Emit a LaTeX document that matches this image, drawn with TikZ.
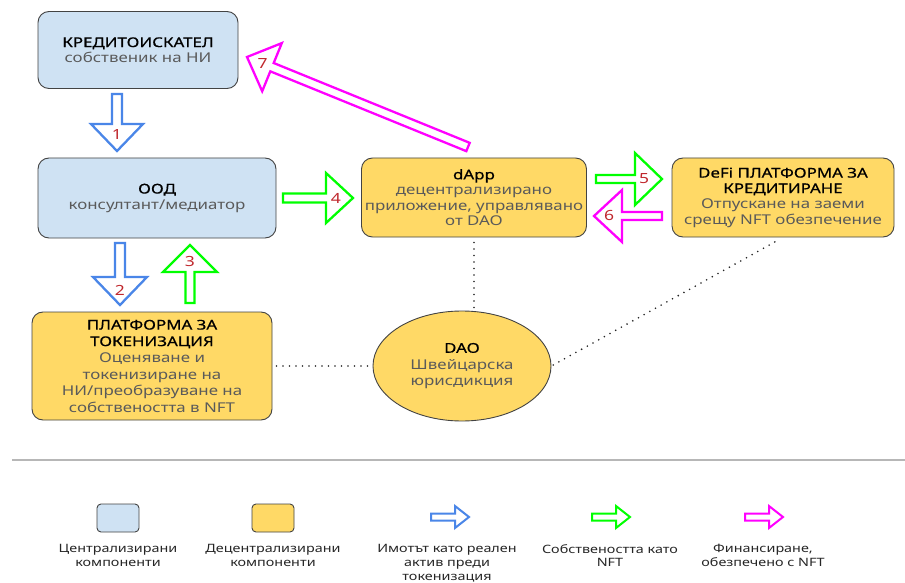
\documentclass[tikz,border=0pt]{standalone}
\usepackage{fontspec}
\setmainfont{Noto Sans}[FakeStretch=1.25]
\usetikzlibrary{calc,shapes.geometric}
\definecolor{cblue}{HTML}{CFE2F3}
\definecolor{cyel}{HTML}{FFD966}
\definecolor{cborder}{HTML}{434343}
\definecolor{aBlue}{HTML}{4A86E8}
\definecolor{aGreen}{HTML}{00FF00}
\definecolor{aMag}{HTML}{FF00FF}
\definecolor{numred}{HTML}{C0282D}
\definecolor{subgray}{HTML}{5A5A5A}
\definecolor{legline}{HTML}{B7B7B7}
\newcommand{\ttl}[1]{{\addfontfeature{FakeBold=0.6}\color{black}#1}}
\newcommand{\sbt}[1]{{\color{subgray}#1}}
% block arrow: style, from, to, shaft half width, head half width, head length
\newcommand{\blk}[6]{%
  \coordinate (bH) at ($(#3)!#6!(#2)$);
  \draw[#1] ($(#2)!#4!90:(#3)$) -- ($(bH)!#4!90:(#3)$) -- ($(bH)!#5!90:(#3)$) -- (#3)
    -- ($(bH)!#5!-90:(#3)$) -- ($(bH)!#4!-90:(#3)$) -- ($(#2)!#4!-90:(#3)$) -- cycle;}
\begin{document}
\begin{tikzpicture}[x=1pt,y=-1pt,
  box/.style={draw=cborder, line width=0.9pt, rounded corners=11pt, align=center,
    inner sep=2pt, font=\fontsize{13.5}{15.5}\selectfont},
  cbox/.style={box, fill=cblue},
  dbox/.style={box, fill=cyel},
  barB/.style={draw=aBlue, fill=white, line width=2.3pt},
  barG/.style={draw=aGreen, fill=white, line width=2.3pt},
  barM/.style={draw=aMag, fill=white, line width=2.3pt},
  num/.style={text=numred, font=\fontsize{14}{14}\selectfont, inner sep=0pt},
  dotline/.style={draw=black!85, line width=1.8pt, dash pattern=on 0pt off 6.5pt, line cap=round},
  legtxt/.style={align=center, anchor=north, text=black!85, inner sep=0pt,
    font=\fontsize{11.5}{13.8}\selectfont}
]
\useasboundingbox[fill=white] (0,0) rectangle (905,583);

% boxes
\node[cbox, minimum width=200pt, minimum height=77pt] (kred) at (138,50)
  {\ttl{КРЕДИТОИСКАТЕЛ}\\\sbt{собственик на НИ}};
\node[cbox, minimum width=238pt, minimum height=80pt] (ood) at (157,198)
  {\ttl{ООД}\\\sbt{консултант/медиатор}};
\node[dbox, minimum width=225pt, minimum height=79pt] (dapp) at (474,197.5)
  {\ttl{dApp}\\\sbt{децентрализирано}\\\sbt{приложение, управлявано}\\\sbt{от DAO}};
\node[dbox, minimum width=222pt, minimum height=79pt] (defi) at (783,197.5)
  {\ttl{DeFi ПЛАТФОРМА ЗА}\\\ttl{КРЕДИТИРАНЕ}\\\sbt{Отпускане на заеми}\\\sbt{срещу NFT обезпечение}};
\node[dbox, minimum width=240pt, minimum height=108pt, font=\fontsize{13.5}{16.5}\selectfont] (tok) at (152,366)
  {\ttl{ПЛАТФОРМА ЗА}\\\ttl{ТОКЕНИЗАЦИЯ}\\\sbt{Оценяване и}\\\sbt{токенизиране на}\\\sbt{НИ/преобразуване на}\\\sbt{собствеността в NFT}};
\node[draw=cborder, line width=0.9pt, fill=cyel, ellipse, minimum width=178pt, minimum height=110pt,
  inner sep=0pt, align=center, font=\fontsize{13.5}{16.5}\selectfont] (dao) at (462,366)
  {\ttl{DAO}\\\sbt{Швейцарска}\\\sbt{юрисдикция}};

% dotted links
\draw[dotline, shorten <=5pt, shorten >=1pt] (dapp.south) -- (dapp.south |- dao.north);
\draw[dotline, shorten <=4pt, shorten >=2pt] (tok.east) -- (dao.west);
\draw[dotline, shorten <=2pt, shorten >=4pt] (dao.east) -- (defi.south);

% block arrows
\coordinate (a1s) at (117,94);  \coordinate (a1e) at (117,151);
\coordinate (a2s) at (120,243); \coordinate (a2e) at (120,305);
\coordinate (a3s) at (190,303); \coordinate (a3e) at (190,245);
\coordinate (a4s) at (283,198); \coordinate (a4e) at (353,198);
\coordinate (a5s) at (596,179); \coordinate (a5e) at (662,179);
\coordinate (a6s) at (662,216); \coordinate (a6e) at (594,216);
\coordinate (a7s) at (468,147); \coordinate (a7e) at (247,57);
\blk{barB}{a1s}{a1e}{5pt}{26pt}{27pt}
\node[num] (l1) at ($(a1e)!16pt!(a1s)$) {1};
\blk{barB}{a2s}{a2e}{5pt}{27pt}{28pt}
\node[num] (l2) at ($(a2e)!15pt!(a2s)$) {2};
\blk{barG}{a3s}{a3e}{4.5pt}{27pt}{27pt}
\node[num] (l3) at ($(a3e)!17pt!(a3s)$) {3};
\blk{barG}{a4s}{a4e}{4.5pt}{25pt}{27pt}
\node[num] (l4) at ($(a4e)!17pt!(a4s)$) {4};
\blk{barG}{a5s}{a5e}{4pt}{26pt}{27pt}
\node[num] (l5) at ($(a5e)!18pt!(a5s)$) {5};
\blk{barM}{a6s}{a6e}{4pt}{26pt}{28pt}
\node[num] (l6) at ($(a6e)!15pt!(a6s)$) {6};
\blk{barM}{a7s}{a7e}{4.5pt}{26pt}{27pt}
\node[num] (l7) at ($(a7e)!17pt!(a7s)$) {7};

% legend
\coordinate (lgA) at (12,460); \coordinate (lgB) at (905,460);
\draw[legline, line width=1.8pt] (lgA) -- (lgB);
\node[draw=cborder, line width=0.9pt, fill=cblue, rounded corners=4pt, minimum width=42pt, minimum height=28pt] (lg1) at (118,518) {};
\node[draw=cborder, line width=0.9pt, fill=cyel, rounded corners=4pt, minimum width=42pt, minimum height=28pt] (lg2) at (273,518) {};
\coordinate (lb1) at (431,517); \coordinate (lb2) at (469,517);
\coordinate (lg3s) at (592,517); \coordinate (lg3e) at (630,517);
\coordinate (lm1) at (745,517); \coordinate (lm2) at (783,517);
\blk{draw=aBlue, fill=white, line width=2pt}{lb1}{lb2}{3.5pt}{11pt}{14pt}
\blk{draw=aGreen, fill=white, line width=2pt}{lg3s}{lg3e}{3.5pt}{11pt}{14pt}
\blk{draw=aMag, fill=white, line width=2pt}{lm1}{lm2}{3.5pt}{11pt}{14pt}
\node[legtxt] (t1) at (118,544) {Централизирани\\компоненти};
\node[legtxt] (t2) at (273,544) {Децентрализирани\\компоненти};
\node[legtxt] (t3) at (447,544) {Имотът като реален\\актив преди\\токенизация};
\node[legtxt] (t4) at (610,544) {Собствеността като\\NFT};
\node[legtxt] (t5) at (763,544) {Финансиране,\\обезпечено с NFT};
\end{tikzpicture}
\end{document}
